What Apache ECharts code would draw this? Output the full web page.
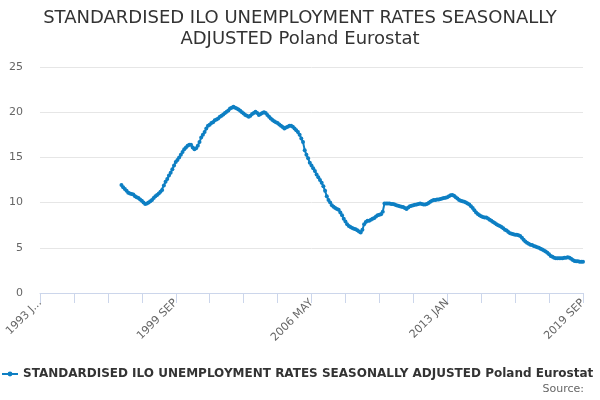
<!DOCTYPE html>
<html lang="en">
<head>
    <meta charset="UTF-8">
    <title>STANDARDISED ILO UNEMPLOYMENT RATES SEASONALLY ADJUSTED Poland Eurostat</title>
    <script src="https://cdn.jsdelivr.net/npm/echarts@6/dist/echarts.min.js"></script>
    <style>
        html, body { margin: 0; padding: 0; background: #fff; }
        #main { width: 600px; height: 400px; }
    </style>
</head>
<body>
<div id="main"></div>
<script>
    // axis runs monthly from 1993 JAN to 2019 SEP, data begins 1997 JAN
    var monthNames = ['JAN', 'FEB', 'MAR', 'APR', 'MAY', 'JUN', 'JUL', 'AUG', 'SEP', 'OCT', 'NOV', 'DEC'];
    var firstYear = 1993, lastYear = 2019, lastMonth = 9;
    var dataStart = '1997 JAN';
    var yTicks = [0, 5, 10, 15, 20, 25];
    var seriesName = 'STANDARDISED ILO UNEMPLOYMENT RATES SEASONALLY ADJUSTED Poland Eurostat';

    // monthly values, one row per year (1997 .. 2019)
    var rates = [
        11.95, 11.7, 11.5, 11.3, 11.1, 11.0, 10.95, 10.9, 10.7, 10.6, 10.5, 10.35,
        10.2, 10.0, 9.85, 9.9, 10.0, 10.15, 10.3, 10.5, 10.7, 10.85, 11.0, 11.2,
        11.4, 11.9, 12.3, 12.6, 13.0, 13.3, 13.7, 14.1, 14.5, 14.7, 15.0, 15.3,
        15.6, 15.9, 16.1, 16.3, 16.4, 16.4, 16.1, 15.9, 16.0, 16.3, 16.7, 17.2,
        17.5, 17.8, 18.2, 18.5, 18.6, 18.8, 18.9, 19.1, 19.2, 19.3, 19.5, 19.6,
        19.75, 19.9, 20.05, 20.2, 20.4, 20.5, 20.6, 20.5, 20.4, 20.3, 20.15, 20.0,
        19.85, 19.7, 19.6, 19.5, 19.6, 19.8, 19.9, 20.05, 19.9, 19.7, 19.8, 19.9,
        20.0, 19.9, 19.7, 19.5, 19.3, 19.15, 19.0, 18.9, 18.8, 18.65, 18.5, 18.35,
        18.2, 18.3, 18.4, 18.5, 18.5, 18.4, 18.2, 18.0, 17.8, 17.5, 17.1, 16.7,
        15.8, 15.3, 14.9, 14.4, 14.1, 13.8, 13.5, 13.1, 12.8, 12.5, 12.2, 11.8,
        11.3, 10.7, 10.3, 10.0, 9.7, 9.55, 9.4, 9.3, 9.2, 8.9, 8.6, 8.2,
        7.9, 7.6, 7.4, 7.3, 7.2, 7.1, 7.05, 6.95, 6.8, 6.7, 7.0, 7.6,
        7.85, 8.0, 8.0, 8.1, 8.2, 8.3, 8.45, 8.6, 8.65, 8.7, 9.0, 9.9,
        9.9, 9.9, 9.9, 9.85, 9.85, 9.8, 9.7, 9.65, 9.6, 9.55, 9.5, 9.4,
        9.3, 9.45, 9.6, 9.65, 9.7, 9.75, 9.8, 9.85, 9.9, 9.85, 9.8, 9.8,
        9.85, 9.95, 10.1, 10.2, 10.3, 10.3, 10.35, 10.35, 10.4, 10.45, 10.5, 10.55,
        10.6, 10.7, 10.8, 10.85, 10.75, 10.6, 10.45, 10.3, 10.2, 10.15, 10.1, 10.0,
        9.9, 9.8, 9.6, 9.4, 9.15, 8.9, 8.75, 8.6, 8.5, 8.4, 8.35, 8.35,
        8.25, 8.1, 8.0, 7.85, 7.75, 7.6, 7.5, 7.4, 7.3, 7.15, 7.0, 6.9,
        6.75, 6.6, 6.55, 6.5, 6.45, 6.45, 6.4, 6.3, 6.1, 5.9, 5.7, 5.55,
        5.45, 5.35, 5.3, 5.2, 5.15, 5.05, 5.0, 4.9, 4.8, 4.7, 4.6, 4.45,
        4.3, 4.1, 4.0, 3.9, 3.85, 3.85, 3.85, 3.85, 3.85, 3.9, 3.9, 3.95,
        3.9, 3.8, 3.65, 3.55, 3.5, 3.5, 3.45, 3.45, 3.45
    ];

    var categories = [];
    for (var y = firstYear; y <= lastYear; y++) {
        for (var m = 0; m < 12; m++) {
            if (y === lastYear && m >= lastMonth) break;
            categories.push(y + ' ' + monthNames[m]);
        }
    }
    // empty months before the series starts
    var seriesData = [];
    var startIdx = categories.indexOf(dataStart);
    for (var i = 0; i < startIdx; i++) seriesData.push(null);
    seriesData = seriesData.concat(rates);

    var font = 'DejaVu Sans';
    var myChart = echarts.init(document.getElementById('main'));
    var option = {
        animation: false,
        color: ['#0d7fc3'],
        title: [{
            text: 'STANDARDISED ILO UNEMPLOYMENT RATES SEASONALLY\nADJUSTED Poland Eurostat',
            left: 'center',
            top: 3,
            textStyle: { fontFamily: font, fontSize: 18, fontWeight: 'normal', color: '#333', lineHeight: 21 }
        }, {
            text: 'Source:',
            right: 11,
            bottom: 0,
            textStyle: { fontFamily: font, fontSize: 11, fontWeight: 'normal', color: '#666' }
        }],
        legend: {
            data: [seriesName],
            left: -4,
            top: 363,
            itemWidth: 16,
            itemHeight: 6,
            itemGap: 6,
            textStyle: { fontFamily: font, fontSize: 12, fontWeight: 'bold', color: '#333' }
        },
        grid: { left: 40, right: 17, top: 67, bottom: 107, containLabel: false },
        xAxis: {
            type: 'category',
            data: categories,
            boundaryGap: false,
            axisLine: { lineStyle: { color: '#ccd6eb', width: 1 } },
            axisTick: { interval: 19, length: 10, lineStyle: { color: '#ccd6eb' } },
            splitLine: { show: false },
            axisLabel: {
                interval: 79,
                rotate: 45,
                margin: 8,
                fontFamily: font,
                fontSize: 11,
                color: '#666',
                formatter: function (value, index) {
                    return index === 0 ? value.slice(0, 6) + '...' : value;
                }
            }
        },
        yAxis: {
            type: 'value',
            min: yTicks[0],
            max: yTicks[yTicks.length - 1],
            interval: 5,
            axisLine: { show: false },
            axisTick: { show: false },
            axisLabel: { fontFamily: font, fontSize: 11, color: '#666', margin: 17 },
            splitLine: { lineStyle: { color: '#e6e6e6' } }
        },
        series: [{
            name: seriesName,
            type: 'line',
            data: seriesData,
            showSymbol: true,
            showAllSymbol: true,
            symbol: 'circle',
            symbolSize: 4,
            lineStyle: { width: 2 },
            connectNulls: false
        }]
    };
    myChart.setOption(option);
</script>
</body>
</html>
